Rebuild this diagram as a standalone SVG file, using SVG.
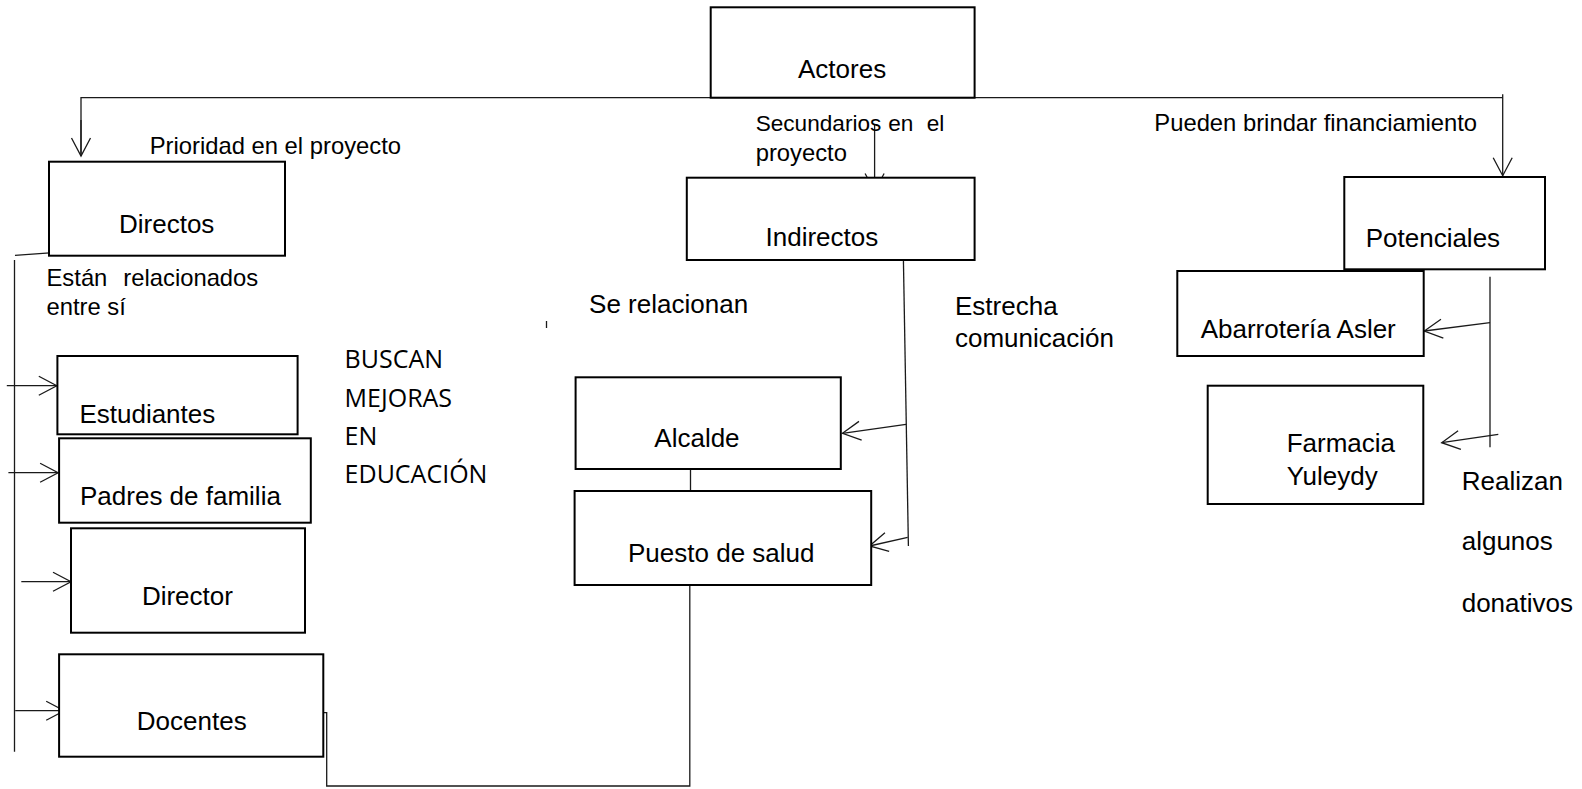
<svg xmlns="http://www.w3.org/2000/svg" width="1582" height="789" viewBox="0 0 1582 789">
<style>
.box{fill:#fff;stroke:#000;stroke-width:2}
.lbl{font-family:"Liberation Sans",Arial,sans-serif;font-size:26px;fill:#000}
.ann{font-family:"Liberation Sans",Arial,sans-serif;font-size:23.8px;fill:#000}
.cal{font-family:"Open Sans",sans-serif;font-size:25px;fill:#000}
.con{fill:none;stroke:#1a1a1a;stroke-width:1.3}
.arr{marker-end:url(#open)}
</style>
<defs>
<marker id="open" markerUnits="userSpaceOnUse" markerWidth="22" markerHeight="22" viewBox="0 0 22 22" refX="20" refY="11" orient="auto">
<path d="M2,1.5 L20,11 L2,20.5" fill="none" stroke="#1a1a1a" stroke-width="1.3"/>
</marker>
</defs>
<rect width="1582" height="789" fill="#fff"/>
<g id="connectors">
<path class="con" d="M1502.7,97.7 H81 V156"/>
<path class="con arr" d="M1502.7,94.3 V175.7"/>
<path class="con arr" d="M81,120 V156"/>
<path class="con arr" d="M874.6,125 V191.5"/>
<path class="con" d="M903.3,253.3 L908.4,546"/>
<path class="con arr" d="M906,424.3 L842.5,433.3"/>
<path class="con arr" d="M907.7,537.3 L869.5,546"/>
<path class="con" d="M15,255.3 L56.7,252.3"/>
<path class="con" d="M14.5,260 V751.7"/>
<path class="con arr" d="M6.8,385.7 H56.8"/>
<path class="con arr" d="M8.4,472.7 H58.1"/>
<path class="con arr" d="M21.3,581.7 H71"/>
<path class="con arr" d="M15.2,710.7 H64.2"/>
<path class="con" d="M690.5,469 V491"/>
<path class="con" d="M323.3,712.7 H326.7 V786 H689.8 V585"/>
<path class="con" d="M1490,276.7 V447.3"/>
<path class="con arr" d="M1490,322.7 L1424.3,331"/>
<path class="con arr" d="M1498.3,434.3 L1441.7,442.7"/>
<path class="con" d="M546.5,321 V328"/>
</g>
<g id="actores">
<rect class="box" x="710.7" y="7.3" width="263.9" height="90.4"/>
<text class="lbl" x="798" y="77.7">Actores</text>
</g>
<g id="directos">
<rect class="box" x="49" y="161.7" width="236" height="94"/>
<text class="lbl" x="119" y="232.7">Directos</text>
</g>
<g id="indirectos">
<rect class="box" x="686.8" y="177.7" width="287.8" height="82.3"/>
<text class="lbl" x="765.5" y="246">Indirectos</text>
</g>
<g id="potenciales">
<rect class="box" x="1344.3" y="177" width="200.7" height="92.3"/>
<text class="lbl" x="1365.7" y="247.3">Potenciales</text>
</g>
<g id="estudiantes">
<rect class="box" x="57.4" y="356" width="240.2" height="78.3"/>
<text class="lbl" x="79.4" y="423.3">Estudiantes</text>
</g>
<g id="padres">
<rect class="box" x="59.1" y="438.3" width="251.7" height="84.4"/>
<text class="lbl" x="80" y="505">Padres de familia</text>
</g>
<g id="director">
<rect class="box" x="71" y="528.3" width="234" height="104.4"/>
<text class="lbl" x="141.9" y="605">Director</text>
</g>
<g id="docentes">
<rect class="box" x="59.1" y="654.3" width="264.2" height="102.4"/>
<text class="lbl" x="136.8" y="730">Docentes</text>
</g>
<g id="alcalde">
<rect class="box" x="575.6" y="377.3" width="265.2" height="91.7"/>
<text class="lbl" x="654.3" y="447.3">Alcalde</text>
</g>
<g id="puesto">
<rect class="box" x="574.6" y="491" width="296.6" height="94"/>
<text class="lbl" x="628" y="562.3">Puesto de salud</text>
</g>
<g id="abarroteria">
<rect class="box" x="1177.3" y="271" width="246.4" height="85"/>
<text class="lbl" x="1200.7" y="338.3">Abarrotería Asler</text>
</g>
<g id="farmacia">
<rect class="box" x="1207.7" y="385.7" width="215.6" height="118.3"/>
<text class="lbl" x="1286.7" y="452.3">Farmacia</text>
<text class="lbl" x="1286.7" y="485">Yuleydy</text>
</g>
<g id="labels">
<text class="ann" x="149.7" y="154.3">Prioridad en el proyecto</text>
<text class="ann" y="130.7" style="font-size:22.6px"><tspan x="755.7">Secundarios</tspan><tspan x="888.3">en</tspan><tspan x="926.7">el</tspan></text>
<text class="ann" x="755.7" y="160.7">proyecto</text>
<text class="ann" x="1154.3" y="131">Pueden brindar financiamiento</text>
<text class="ann" y="285.7"><tspan x="46.5">Están</tspan><tspan x="123.3">relacionados</tspan></text>
<text class="ann" x="46.5" y="315">entre sí</text>
<text class="lbl" x="589.1" y="313.3">Se relacionan</text>
<text class="lbl" x="955" y="315">Estrecha</text>
<text class="lbl" x="955" y="346.7">comunicación</text>
<text class="cal" x="344.6" y="368.3">BUSCAN</text>
<text class="cal" x="344.6" y="406.7">MEJORAS</text>
<text class="cal" x="344.6" y="445">EN</text>
<text class="cal" x="344.6" y="483.3">EDUCACIÓN</text>
<text class="lbl" x="1461.7" y="490">Realizan</text>
<text class="lbl" x="1461.7" y="550">algunos</text>
<text class="lbl" x="1461.7" y="611.7">donativos</text>
</g>
</svg>
